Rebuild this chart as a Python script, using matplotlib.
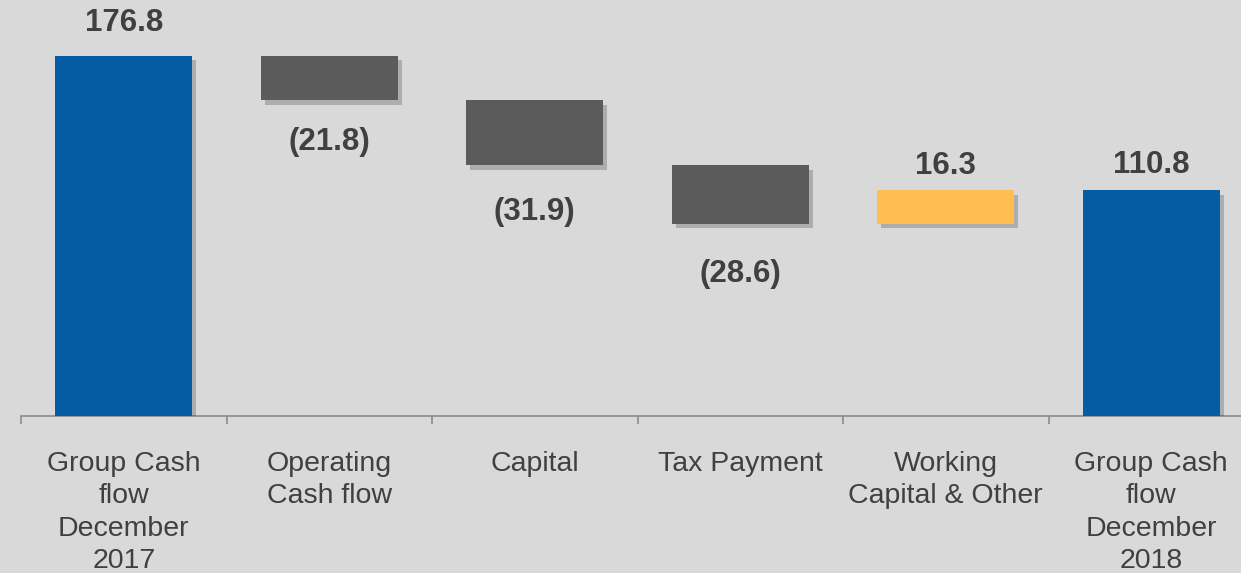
import matplotlib
matplotlib.use("Agg")
import matplotlib.pyplot as plt
import matplotlib.patheffects as pe
import numpy as np

categories = ["Group Cash\nflow\nDecember\n2017", "Operating\nCash flow", "Capital",
              "Tax Payment", "Working\nCapital & Other", "Group Cash\nflow\nDecember\n2018"]
values = [176.8, -21.8, -31.9, -28.6, 16.3, 110.8]
kinds = ["total", "delta", "delta", "delta", "delta", "total"]
labels = ["176.8", "(21.8)", "(31.9)", "(28.6)", "16.3", "110.8"]

bg = "#d9d9d9"
blue = "#055ca4"
grey = "#5b5b5b"
orange = "#ffbd52"
text_col = "#404040"

# distance of each value label from its bar edge, in pixels
label_gap = [33, 42, 47, 50, 24, 25]

plt.rcParams["font.family"] = ["Liberation Sans", "DejaVu Sans"]

fig = plt.figure(figsize=(12.41, 5.73), dpi=100, facecolor=bg)
ax = fig.add_axes([21 / 1241, 1 - 416 / 573, 6 * 205.5 / 1241, 416 / 573])
ax.set_facecolor(bg)

# waterfall bottoms
bottoms = []
heights = []
colors = []
running = 0
for v, k in zip(values, kinds):
    if k == "total":
        bottoms.append(0)
        heights.append(v)
        colors.append(blue)
        running = v
    else:
        if v < 0:
            bottoms.append(running + v)
            colors.append(grey)
        else:
            bottoms.append(running)
            colors.append(orange)
        heights.append(abs(v))
        running += v

x = np.arange(len(categories))
shadow = [pe.SimplePatchShadow(offset=(3, -3), shadow_rgbFace="#000000", alpha=0.2), pe.Normal()]
bars = ax.bar(x, heights, bottom=bottoms, width=0.667, color=colors, zorder=3)
for b in bars:
    b.set_path_effects(shadow)

for i, v in enumerate(values):
    gap = label_gap[i] * 0.72
    if v < 0:
        ax.annotate(labels[i], (x[i], bottoms[i]), xytext=(0, -gap), textcoords="offset points",
                    ha="center", va="center", fontsize=22.5, fontweight="bold", color=text_col)
    else:
        ax.annotate(labels[i], (x[i], bottoms[i] + heights[i]), xytext=(0, gap), textcoords="offset points",
                    ha="center", va="center", fontsize=22.5, fontweight="bold", color=text_col)

ax.set_xlim(-0.5, len(categories) - 0.5)
ax.set_ylim(0, 416 / 2.036)

for s in ["top", "right", "left"]:
    ax.spines[s].set_visible(False)
ax.spines["bottom"].set_color("#8c8c8c")
ax.spines["bottom"].set_linewidth(1.2)

ax.set_yticks([])
ax.set_xticks(x)
ax.set_xticklabels(categories, fontsize=20.5, color=text_col, linespacing=1.32)
ax.set_xticks(np.arange(-0.5, len(categories)), minor=True)
ax.tick_params(axis="x", which="major", length=0, pad=25)
ax.tick_params(axis="x", which="minor", length=6, width=1.2, color="#8c8c8c", direction="out")

fig.savefig("out.png", dpi=100, facecolor=bg)
